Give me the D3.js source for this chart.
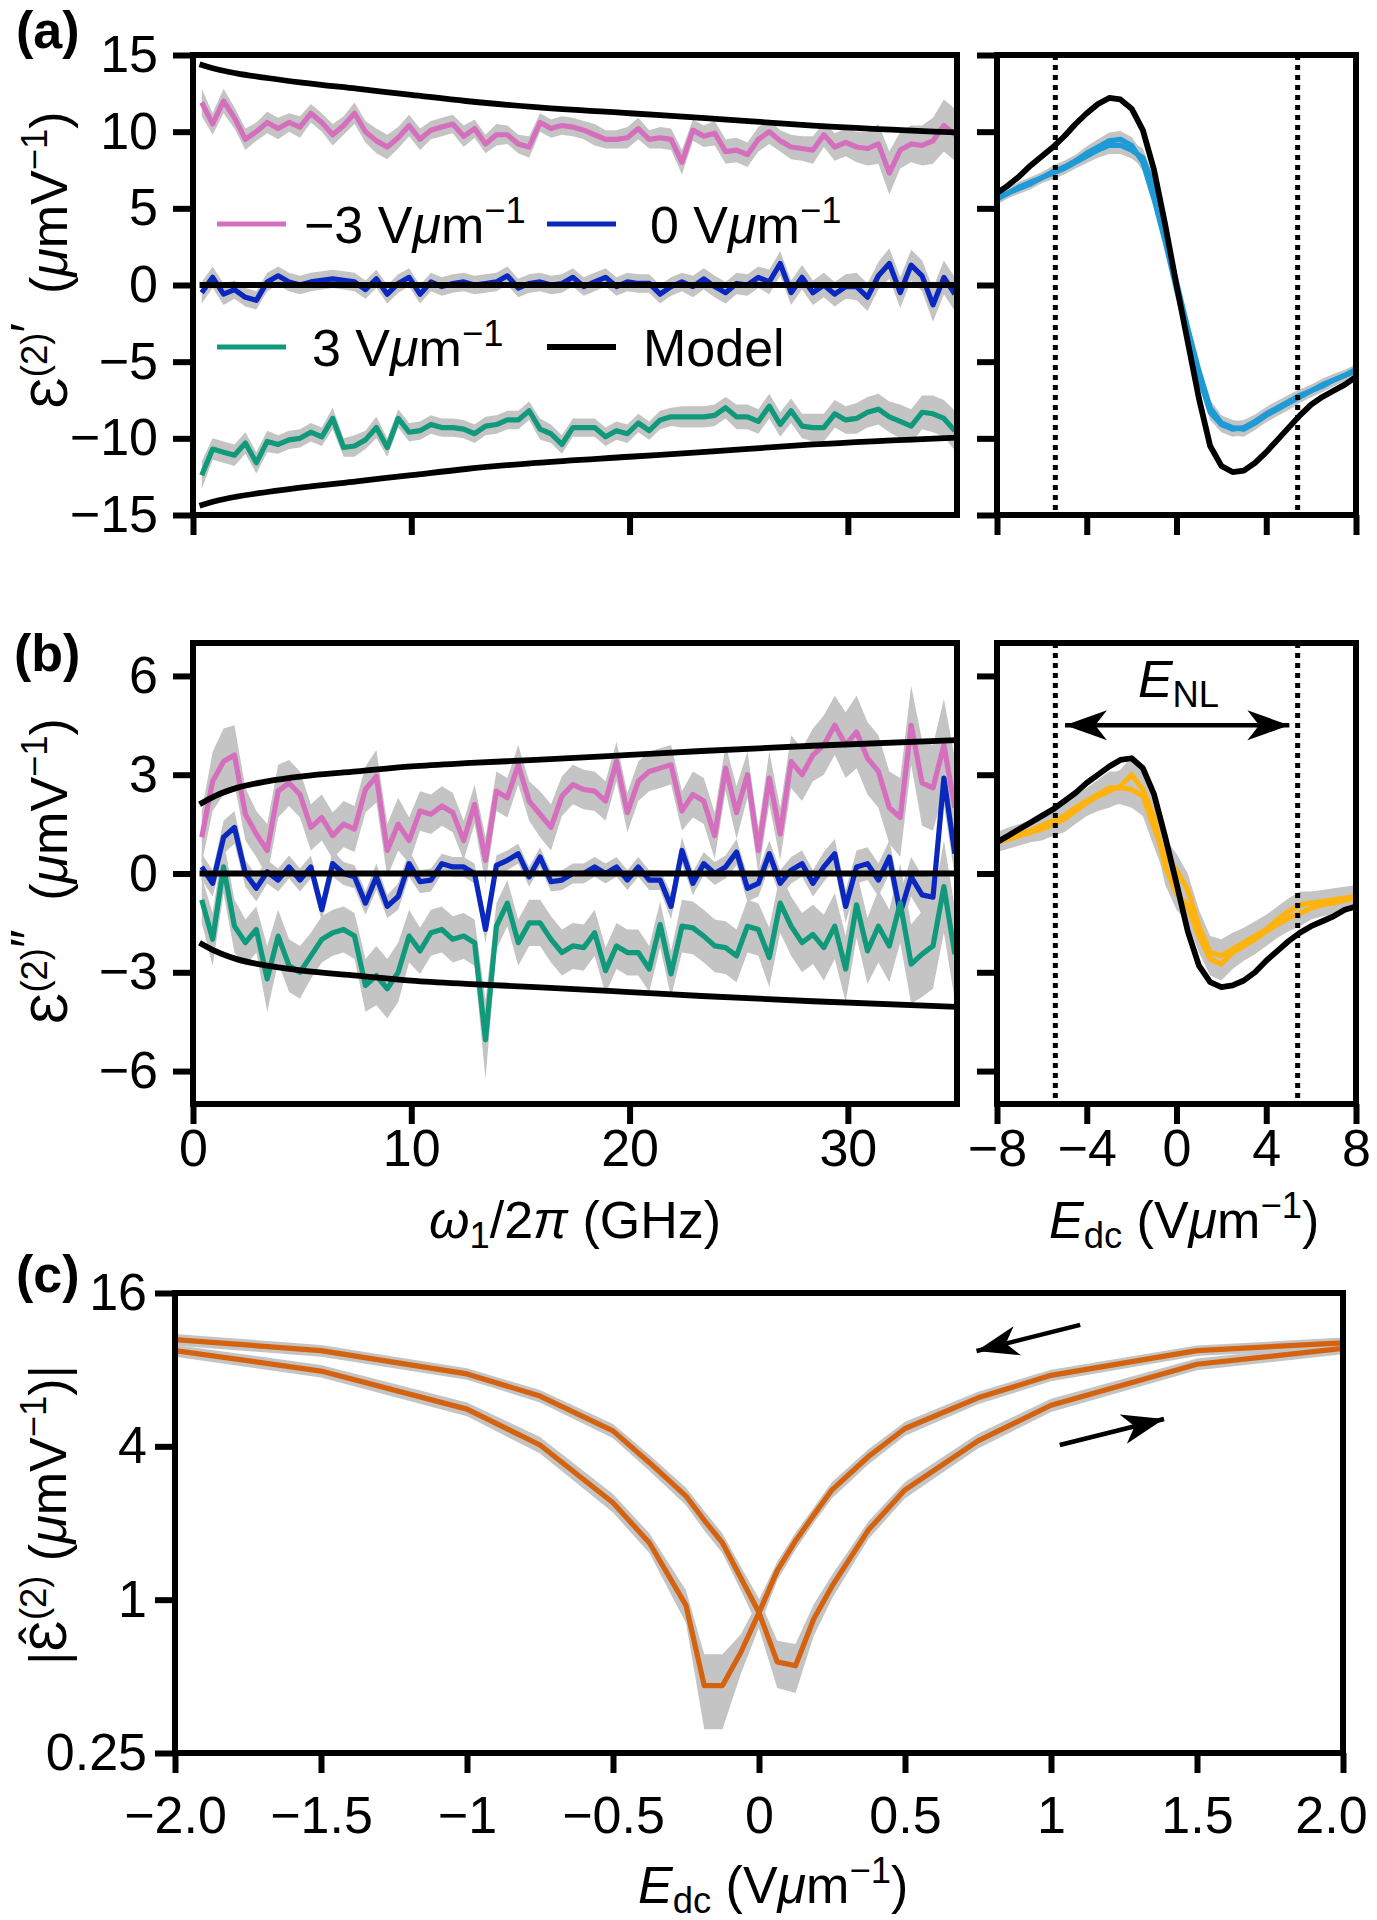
<!DOCTYPE html>
<html><head><meta charset="utf-8">
<script src="https://cdn.jsdelivr.net/npm/d3@7"></script>
<style>body{margin:0;background:#fff}</style>
</head><body>
<svg id="chart" width="1377" height="1920" xmlns="http://www.w3.org/2000/svg"></svg>
<script>
// ---------------- DATA ----------------
const freq = [0.4,0.9,1.4,1.9,2.4,2.9,3.4,3.9,4.4,4.9,5.4,5.9,6.4,6.9,7.4,7.9,8.4,8.9,9.4,9.9,
  10.4,10.9,11.4,11.9,12.4,12.9,13.4,13.9,14.4,14.9,15.4,15.9,16.4,16.9,17.4,17.9,18.4,18.9,19.4,19.9,
  20.4,20.9,21.4,21.9,22.4,22.9,23.4,23.9,24.4,24.9,25.4,25.9,26.4,26.9,27.4,27.9,28.4,28.9,29.4,29.9,
  30.4,30.9,31.4,31.9,32.4,32.9,33.4,33.9,34.4,34.9];

// panel (a), real part, three dc fields (-3, 0, 3 V/um)
const aPink = [11.9,10.5,12.0,10.9,9.5,10.0,10.6,10.2,10.6,10.3,
  11.2,10.6,9.8,10.4,11.2,10.0,9.4,9.0,9.6,10.4,
  9.5,10.1,10.3,10.5,9.7,10.2,9.2,9.8,9.8,9.2,
  9.0,10.6,10.2,10.4,10.3,10.1,9.8,9.5,9.5,9.6,
  10.2,9.5,9.6,9.5,8.0,10.1,9.7,9.9,8.7,8.8,
  8.5,9.5,10.0,9.4,9.0,8.9,8.8,9.8,9.0,9.3,
  9.0,8.9,9.2,7.3,8.8,9.2,9.1,9.4,10.4,9.8];
const aPinkErr = [0.9,0.7,0.8,0.7,0.7,0.6,0.7,0.7,0.6,0.7,
  0.6,0.6,0.7,0.6,0.7,0.7,0.8,0.8,0.7,0.7,
  0.7,0.6,0.6,0.6,0.7,0.6,0.6,0.7,0.6,0.6,
  0.7,0.6,0.6,0.6,0.6,0.6,0.7,0.6,0.6,0.7,
  0.7,0.6,0.7,0.7,0.8,0.7,0.7,0.8,0.8,0.8,
  0.8,0.8,0.8,0.7,0.8,0.8,0.9,0.8,0.9,0.9,
  1.0,1.1,1.3,1.4,1.2,1.2,1.3,1.5,1.7,1.7];
const aBlue = [-0.5,0.5,-0.6,-0.3,-0.8,-1.0,0.2,0.6,0.2,0.0,
  0.2,0.3,0.4,0.3,0.2,-0.3,0.4,-0.6,0.1,0.5,
  -0.6,0.2,-0.1,0.1,0.2,0.0,0.1,0.2,0.6,-0.2,
  0.1,0.2,0.0,0.1,0.5,-0.1,0.2,0.5,-0.1,0.2,
  0.1,0.1,-0.6,-0.1,0.2,-0.1,0.4,-0.1,-0.5,0.1,
  0.0,0.5,0.2,1.4,-0.5,0.5,-0.5,0.0,-0.6,-0.1,
  -0.1,-0.8,0.6,1.4,-0.5,1.3,0.6,-1.3,0.5,-0.6];
const aBlueErr = [0.7,0.7,0.7,0.6,0.6,0.6,0.6,0.6,0.6,0.6,
  0.6,0.6,0.6,0.6,0.6,0.6,0.6,0.6,0.6,0.6,
  0.6,0.6,0.6,0.6,0.6,0.6,0.6,0.6,0.6,0.6,
  0.6,0.6,0.6,0.6,0.6,0.6,0.6,0.6,0.6,0.6,
  0.6,0.6,0.6,0.6,0.6,0.7,0.7,0.7,0.7,0.7,
  0.7,0.7,0.8,0.8,0.8,0.8,0.8,0.8,0.8,0.8,
  0.9,0.9,0.9,1.0,1.0,1.0,1.0,1.1,1.1,1.1];
const aGreen = [-12.4,-10.7,-10.9,-11.1,-10.3,-11.6,-10.2,-10.4,-10.1,-10.0,
  -9.6,-9.9,-8.7,-10.6,-10.5,-10.1,-9.3,-10.6,-8.7,-9.6,
  -9.5,-9.1,-9.3,-9.3,-9.4,-9.7,-9.2,-9.1,-8.8,-8.8,
  -8.2,-9.4,-9.7,-10.4,-9.3,-9.3,-9.3,-9.9,-9.5,-9.7,
  -9.0,-9.5,-8.8,-8.6,-8.6,-8.6,-8.6,-8.5,-8.0,-8.6,
  -8.6,-8.9,-7.9,-9.1,-8.2,-9.2,-9.3,-9.3,-8.4,-8.8,
  -8.7,-8.3,-8.1,-8.6,-8.9,-9.2,-8.3,-8.4,-8.7,-9.5];
const aGreenErr = [0.9,0.7,0.7,0.7,0.7,0.7,0.7,0.6,0.6,0.6,
  0.6,0.6,0.7,0.6,0.7,0.6,0.7,0.6,0.6,0.6,
  0.6,0.6,0.6,0.6,0.6,0.6,0.6,0.6,0.6,0.6,
  0.6,0.7,0.6,0.6,0.6,0.6,0.6,0.6,0.6,0.6,
  0.6,0.6,0.6,0.6,0.7,0.7,0.7,0.7,0.7,0.8,
  0.8,0.8,0.8,0.8,0.8,0.8,0.9,0.9,0.9,0.9,
  1.0,1.0,1.0,1.0,1.1,1.1,1.1,1.2,1.2,1.3];

// panel (b), imaginary part
const bPink = [1.1,2.8,3.4,3.6,1.8,1.2,0.7,2.5,2.75,2.4,
  1.4,1.7,1.15,1.5,1.35,2.55,2.95,0.7,1.5,1.0,
  1.9,1.8,2.05,1.85,1.0,2.1,0.4,2.5,2.3,3.3,
  2.2,1.8,1.4,2.35,2.7,2.55,2.5,2.2,3.4,1.85,
  2.8,3.1,3.2,3.3,1.9,2.4,2.2,1.15,3.2,1.85,
  3.0,0.7,2.9,1.2,3.4,3.0,3.6,3.9,4.5,3.9,
  4.3,3.5,3.1,2.0,1.7,4.5,2.75,2.6,3.9,2.0];
const bPinkErr = [0.8,0.9,1.0,0.9,0.8,0.7,0.8,0.8,0.7,0.7,
  0.7,0.7,0.7,0.7,0.7,0.7,0.8,0.8,0.8,0.7,
  0.6,0.6,0.6,0.6,0.6,0.6,0.7,0.6,0.6,0.6,
  0.6,0.7,0.7,0.6,0.6,0.6,0.6,0.6,0.6,0.6,
  0.6,0.6,0.6,0.6,0.6,0.7,0.7,0.7,0.7,0.8,
  0.7,0.7,0.8,0.8,0.8,0.8,0.8,0.9,0.9,1.0,
  1.1,1.1,1.1,1.1,1.2,1.2,1.3,1.3,1.4,1.5];
const bBlue = [0.2,-0.3,1.1,1.4,0.0,-0.45,0.05,-0.2,0.2,-0.2,
  0.2,-1.1,0.3,0.0,-0.1,-0.9,-0.1,-1.0,-0.7,0.3,
  -0.25,-0.2,0.3,0.2,0.2,0.0,-1.7,0.25,0.4,0.6,
  -0.1,0.5,-0.25,-0.2,0.0,0.0,0.2,0.0,0.2,-0.2,
  0.2,-0.2,-0.2,-1.0,0.7,-0.3,0.3,0.0,0.2,0.65,
  -0.45,-0.3,0.6,-0.3,0.1,0.3,-0.3,0.2,0.6,-1.0,
  0.2,0.3,-0.2,0.5,-1.2,-0.1,-0.65,-0.72,2.9,0.6];
const bBlueErr = [0.4,0.4,0.5,0.5,0.4,0.4,0.35,0.35,0.35,0.35,
  0.35,0.35,0.4,0.35,0.35,0.35,0.4,0.35,0.4,0.4,
  0.35,0.35,0.3,0.3,0.3,0.3,0.4,0.3,0.3,0.3,
  0.3,0.3,0.3,0.3,0.3,0.3,0.3,0.3,0.3,0.3,
  0.3,0.3,0.3,0.4,0.4,0.35,0.35,0.35,0.35,0.4,
  0.4,0.4,0.4,0.4,0.4,0.4,0.4,0.45,0.45,0.5,
  0.5,0.5,0.5,0.5,0.6,0.6,0.6,0.6,0.8,0.7];
const bGreen = [-0.8,-2.0,0.2,-1.6,-2.1,-1.7,-3.2,-1.9,-2.8,-3.0,
  -2.5,-2.0,-1.8,-1.7,-1.9,-3.4,-3.1,-3.5,-3.0,-1.9,
  -2.35,-1.8,-1.7,-2.0,-1.9,-2.1,-5.05,-1.6,-0.9,-2.1,
  -1.5,-1.5,-2.0,-2.4,-2.2,-2.25,-1.8,-2.95,-2.2,-2.4,
  -2.4,-2.9,-1.55,-3.05,-1.6,-1.65,-1.9,-2.2,-2.25,-2.5,
  -1.6,-1.7,-2.55,-0.9,-1.6,-2.1,-1.85,-2.25,-1.6,-2.9,
  -0.95,-2.35,-1.6,-2.2,-0.9,-2.75,-2.45,-2.2,-0.4,-2.45];
const bGreenErr = [0.7,0.8,0.8,0.8,0.7,0.7,1.0,0.8,0.8,0.8,
  0.7,0.7,0.7,0.7,0.7,0.8,0.9,0.9,0.9,0.8,
  0.7,0.7,0.7,0.7,0.7,0.7,1.2,0.7,0.7,0.7,
  0.7,0.7,0.7,0.7,0.7,0.7,0.7,0.7,0.7,0.7,
  0.7,0.7,0.7,0.7,0.8,0.8,0.8,0.8,0.8,0.8,
  0.8,0.8,0.9,0.9,0.9,0.9,0.9,1.0,1.0,1.0,
  1.0,1.0,1.1,1.1,1.2,1.2,1.3,1.3,1.4,1.4];

// model curves vs frequency
const modelFreq = [0.3,1,2,3.4,5,7.5,10,12.5,15.7,20,23.3,28.4,35];
const modelAneg = [14.4,14.1,13.8,13.5,13.2,12.8,12.4,12.0,11.6,11.2,10.9,10.4,9.95];
const modelApos = [-14.4,-14.1,-13.8,-13.5,-13.2,-12.8,-12.4,-12.0,-11.6,-11.2,-10.9,-10.4,-9.95];
const modelBneg = [2.1,2.35,2.6,2.8,2.95,3.1,3.25,3.35,3.45,3.6,3.72,3.88,4.05];
const modelBpos = [-2.1,-2.35,-2.6,-2.8,-2.95,-3.1,-3.25,-3.35,-3.45,-3.6,-3.72,-3.88,-4.05];
const modelZeroFreq = [0.3,35];
const modelZero = [0,0];

// right panels vs dc field
const Edc = [-8,-7.5,-7,-6.5,-6,-5.5,-5,-4.5,-4,-3.5,-3,-2.5,-2,-1.5,-1,-0.5,0,
  0.5,1,1.5,2,2.5,3,3.5,4,4.5,5,5.5,6,6.5,7,7.5,8];
const raSweep1 = [5.7,6.0,6.4,6.7,7.0,7.4,7.7,8.1,8.6,9.0,9.4,9.5,9.1,8.0,5.6,2.8,-0.3,
  -3.2,-6.0,-8.3,-9.1,-9.4,-9.3,-8.9,-8.4,-8.0,-7.6,-7.2,-6.9,-6.6,-6.2,-5.9,-5.6];
const raSweep2 = [5.6,6.0,6.3,6.6,7.0,7.3,7.6,8.0,8.4,8.8,9.1,9.1,8.8,8.3,6.4,3.2,0.2,
  -2.8,-5.6,-8.0,-9.0,-9.3,-9.4,-9.0,-8.5,-8.1,-7.7,-7.3,-6.9,-6.5,-6.2,-5.9,-5.5];
const raErr = [0.35,0.35,0.35,0.35,0.35,0.4,0.4,0.4,0.45,0.5,0.55,0.55,0.55,0.6,0.6,0.6,0.5,
  0.5,0.5,0.5,0.5,0.5,0.5,0.45,0.45,0.45,0.45,0.4,0.4,0.4,0.4,0.35,0.35];
const raModel = [6.0,6.5,7.1,7.8,8.4,9.0,9.7,10.5,11.2,11.8,12.2,12.1,11.5,10.1,7.5,3.9,0.0,
  -3.7,-7.4,-10.5,-11.8,-12.2,-12.1,-11.6,-10.9,-10.1,-9.3,-8.5,-7.8,-7.3,-6.9,-6.5,-6.0];
const rbSweep1 = [0.95,1.05,1.15,1.25,1.35,1.5,1.65,1.9,2.15,2.35,2.5,2.65,3.0,2.55,1.7,0.2,-0.6,
  -1.0,-1.9,-2.6,-2.75,-2.4,-2.2,-2.0,-1.75,-1.55,-1.35,-1.2,-1.05,-0.95,-0.9,-0.8,-0.75];
const rbSweep2 = [0.95,1.1,1.2,1.3,1.45,1.6,1.75,2.0,2.2,2.4,2.6,2.6,2.55,2.35,1.4,0.5,0.1,
  -0.5,-1.6,-2.4,-2.5,-2.3,-2.1,-1.9,-1.7,-1.4,-1.15,-0.95,-0.9,-0.85,-0.8,-0.75,-0.7];
const rbErr = [0.3,0.3,0.3,0.3,0.35,0.35,0.4,0.4,0.4,0.45,0.5,0.5,0.55,0.6,0.6,0.55,0.5,
  0.5,0.5,0.5,0.5,0.5,0.45,0.45,0.45,0.4,0.4,0.4,0.35,0.35,0.35,0.35,0.35];
const rbModel = [0.95,1.15,1.35,1.55,1.75,1.95,2.2,2.45,2.75,3.0,3.25,3.45,3.5,3.2,2.4,1.1,-0.3,
  -1.75,-2.8,-3.3,-3.45,-3.4,-3.25,-3.0,-2.65,-2.35,-2.05,-1.8,-1.6,-1.45,-1.3,-1.1,-1.0];
const ENL = [-5.4,5.4];

// panel (c), |eps| vs dc field, two sweep directions
const cE = [-2,-1.5,-1,-0.75,-0.5,-0.375,-0.25,-0.1875,-0.125,-0.0625,0,
  0.0625,0.125,0.1875,0.25,0.375,0.5,0.75,1,1.5,2];
const cUp = [10.5,9.5,7.7,6.3,4.6,3.45,2.55,2.05,1.67,1.22,0.89,
  0.57,0.55,0.84,1.13,1.88,2.7,4.2,5.8,8.4,9.7];
const cUpErr = [0.55,0.5,0.4,0.35,0.3,0.25,0.2,0.18,0.15,0.13,0.12,
  0.12,0.12,0.12,0.12,0.15,0.2,0.28,0.35,0.45,0.5];
const cDown = [9.5,7.9,5.6,4.05,2.4,1.67,0.95,0.46,0.46,0.62,0.89,
  1.3,1.7,2.15,2.7,3.65,4.7,6.2,7.6,9.5,10.2];
const cDownErr = [0.5,0.45,0.35,0.3,0.2,0.15,0.14,0.15,0.15,0.11,0.11,
  0.11,0.13,0.15,0.2,0.25,0.3,0.35,0.4,0.45,0.5];

// ticks
const aTicksY = [15,10,5,0,-5,-10,-15];
const aTickLabelsY = ["15","10","5","0","\u22125","\u221210","\u221215"];
const bTicksY = [6,3,0,-3,-6];
const bTickLabelsY = ["6","3","0","\u22123","\u22126"];
const fTicks = [0,10,20,30];
const fTickLabels = ["0","10","20","30"];
const eTicks = [-8,-4,0,4,8];
const eTickLabels = ["\u22128","\u22124","0","4","8"];
const cTicksX = [-2,-1.5,-1,-0.5,0,0.5,1,1.5,2];
const cTickLabelsX = ["\u22122.0","\u22121.5","\u22121","\u22120.5","0","0.5","1","1.5","2.0"];
const cTicksY = [16,4,1,0.25];
const cTickLabelsY = ["16","4","1","0.25"];

// ---------------- DRAWING ----------------
const FONT = '"Liberation Sans", Arial, Helvetica, sans-serif';
const FS = 52;
const GREY = '#c4c4c4';
const C_PINK = '#d56ebd', C_BLUE = '#0a28bd', C_GREEN = '#11997c',
      C_SKY = '#1e9bd7', C_GOLD = '#ffb30f', C_ORANGE = '#d4620e';
const LW = 5.2, MW = 5.8, FW = 6;

const svg = d3.select('#chart');
svg.append('rect').attr('width',1377).attr('height',1920).attr('fill','#fff');
const defs = svg.append('defs');

const xF = d3.scaleLinear().domain([0,35]).range([193,957]);
const yA = d3.scaleLinear().domain([-15,15]).range([515,55]);
const yB = d3.scaleLinear().domain([-7,7]).range([1104,643]);
const xE = d3.scaleLinear().domain([-8,8]).range([997,1356]);
const xC = d3.scaleLinear().domain([-2,2]).range([175,1343]);
const yC = d3.scaleLog().base(2).domain([0.25,16]).range([1753,1293]);

function panel(id, x, y) {
  const [x0,x1] = x.range(); const [y1,y0] = y.range();
  defs.append('clipPath').attr('id',id).append('rect')
    .attr('x',x0).attr('y',y0).attr('width',x1-x0).attr('height',y1-y0);
  return svg.append('g').attr('clip-path',`url(#${id})`);
}
function band(g, xs, vs, es, x, y, minV) {
  const d = xs.map((t,i)=>[t, vs[i]-es[i], vs[i]+es[i]]);
  g.append('path').attr('fill',GREY).attr('stroke','none')
    .attr('d', d3.area().x(p=>x(p[0])).y0(p=>y(minV!==undefined?Math.max(minV,p[1]):p[1])).y1(p=>y(p[2]))(d));
}
function line(g, xs, vs, x, y, color, w, curve) {
  const gen = d3.line().x(p=>x(p[0])).y(p=>y(p[1]));
  if (curve) gen.curve(curve);
  g.append('path').attr('fill','none').attr('stroke',color).attr('stroke-width',w)
    .attr('stroke-linejoin','round').attr('stroke-linecap','butt')
    .attr('d', gen(xs.map((t,i)=>[t, vs[i]])));
}
function frame(x, y) {
  const [x0,x1] = x.range(); const [y1,y0] = y.range();
  svg.append('rect').attr('x',x0).attr('y',y0).attr('width',x1-x0).attr('height',y1-y0)
    .attr('fill','none').attr('stroke','#000').attr('stroke-width',FW);
}
function axis(kind, scale, values, labels, pad, tx, ty) {
  const ax = (kind==='left' ? d3.axisLeft(scale) : d3.axisBottom(scale))
    .tickValues(values).tickSize(20).tickPadding(pad)
    .tickFormat((d,i)=> labels ? labels[i] : '');
  const a = svg.append('g').attr('transform',`translate(${tx},${ty})`).call(ax);
  a.attr('font-size',FS).attr('font-family',FONT);
  a.select('.domain').remove();
  a.selectAll('.tick line').attr('stroke','#000').attr('stroke-width',FW);
  a.selectAll('.tick text').attr('fill','#000');
  return a;
}
function rich(x, y, parts, opts={}) {
  const t = svg.append('text').attr('x',x).attr('y',y).attr('font-size',FS)
    .attr('font-family',FONT).attr('fill','#000').style('white-space','pre');
  if (opts.anchor) t.attr('text-anchor',opts.anchor);
  if (opts.rotate) t.attr('transform',`rotate(-90 ${x} ${y})`);
  if (opts.bold) t.attr('font-weight','bold');
  let cur = 0;
  parts.forEach(p => {
    const s = typeof p === 'string' ? {t:p} : p;
    const fs = s.fs || ((s.sup||s.sub) ? FS*0.7 : FS);
    const off = s.sup ? -FS*0.38 : s.sub ? FS*0.2 : 0;
    const ts = t.append('tspan').text(s.t).attr('font-size',fs).attr('dy',off-cur);
    cur = off;
    if (s.it) ts.attr('font-style','italic');
  });
  return t;
}
function arrowHead(x1,y1,x2,y2,len,hw) {
  const a = Math.atan2(y2-y1,x2-x1), c = Math.cos(a), s = Math.sin(a);
  const bx = x2 - c*len, by = y2 - s*len;
  const nx = x2 - c*len*0.72, ny = y2 - s*len*0.72;
  svg.append('path').attr('fill','#000')
    .attr('d',`M${x2},${y2}L${bx - s*hw},${by + c*hw}L${nx},${ny}L${bx + s*hw},${by - c*hw}Z`);
}
function arrow(x1,y1,x2,y2,both) {
  svg.append('line').attr('x1',x1).attr('y1',y1).attr('x2',x2).attr('y2',y2)
    .attr('stroke','#000').attr('stroke-width',4.5);
  arrowHead(x1,y1,x2,y2,42,15);
  if (both) arrowHead(x2,y2,x1,y1,42,15);
}
function dotted(g, e, x, y) {
  g.append('line').attr('x1',x(e)).attr('x2',x(e)).attr('y1',y.range()[1]).attr('y2',y.range()[0])
    .attr('stroke','#000').attr('stroke-width',5).attr('stroke-dasharray','5,5');
}

// ---- panel (a) left
let g = panel('clipAL', xF, yA);
band(g, freq, aPink, aPinkErr, xF, yA);
band(g, freq, aBlue, aBlueErr, xF, yA);
band(g, freq, aGreen, aGreenErr, xF, yA);
line(g, freq, aPink, xF, yA, C_PINK, LW);
line(g, freq, aBlue, xF, yA, C_BLUE, LW);
line(g, freq, aGreen, xF, yA, C_GREEN, LW);
line(g, modelFreq, modelAneg, xF, yA, '#000', MW, d3.curveMonotoneX);
line(g, modelFreq, modelApos, xF, yA, '#000', MW, d3.curveMonotoneX);
line(g, modelZeroFreq, modelZero, xF, yA, '#000', MW);
frame(xF, yA);
axis('left', yA, aTicksY, aTickLabelsY, 15, xF.range()[0], 0);
axis('bottom', xF, fTicks, null, 5, 0, yA.range()[0]);

// legend
const legRows = [
  [{c:C_PINK, x:217, y:224, tx:304, parts:['\u22123 V',{t:'\u03bc',it:true},'m',{t:'\u22121',sup:true}]},
   {c:C_BLUE, x:547, y:224, tx:650, parts:['0 V',{t:'\u03bc',it:true},'m',{t:'\u22121',sup:true}]}],
  [{c:C_GREEN, x:217, y:347, tx:312, parts:['3 V',{t:'\u03bc',it:true},'m',{t:'\u22121',sup:true}]},
   {c:'#000', x:547, y:347, tx:643, parts:['Model']}]
];
legRows.flat().forEach(L => {
  svg.append('line').attr('x1',L.x).attr('x2',L.x+69).attr('y1',L.y).attr('y2',L.y)
    .attr('stroke',L.c).attr('stroke-width',L.c==='#000'?MW:LW);
  rich(L.tx, L.y+19, L.parts);
});

// ---- panel (a) right
g = panel('clipAR', xE, yA);
band(g, Edc, raSweep1, raErr, xE, yA);
band(g, Edc, raSweep2, raErr, xE, yA);
line(g, Edc, raSweep1, xE, yA, C_SKY, LW);
line(g, Edc, raSweep2, xE, yA, C_SKY, LW);
line(g, Edc, raModel, xE, yA, '#000', MW);
ENL.forEach(e => dotted(g, e, xE, yA));
frame(xE, yA);
axis('left', yA, aTicksY, null, 15, xE.range()[0], 0);
axis('bottom', xE, eTicks, null, 5, 0, yA.range()[0]);

// ---- panel (b) left
g = panel('clipBL', xF, yB);
band(g, freq, bPink, bPinkErr, xF, yB);
band(g, freq, bBlue, bBlueErr, xF, yB);
band(g, freq, bGreen, bGreenErr, xF, yB);
line(g, freq, bPink, xF, yB, C_PINK, LW);
line(g, freq, bBlue, xF, yB, C_BLUE, LW);
line(g, freq, bGreen, xF, yB, C_GREEN, LW);
line(g, modelFreq, modelBneg, xF, yB, '#000', MW, d3.curveMonotoneX);
line(g, modelFreq, modelBpos, xF, yB, '#000', MW, d3.curveMonotoneX);
line(g, modelZeroFreq, modelZero, xF, yB, '#000', MW);
frame(xF, yB);
axis('left', yB, bTicksY, bTickLabelsY, 15, xF.range()[0], 0);
axis('bottom', xF, fTicks, fTickLabels, 5, 0, yB.range()[0]);

// ---- panel (b) right
g = panel('clipBR', xE, yB);
band(g, Edc, rbSweep1, rbErr, xE, yB);
band(g, Edc, rbSweep2, rbErr, xE, yB);
line(g, Edc, rbSweep1, xE, yB, C_GOLD, LW);
line(g, Edc, rbSweep2, xE, yB, C_GOLD, LW);
line(g, Edc, rbModel, xE, yB, '#000', MW);
ENL.forEach(e => dotted(g, e, xE, yB));
frame(xE, yB);
axis('left', yB, bTicksY, null, 15, xE.range()[0], 0);
axis('bottom', xE, eTicks, eTickLabels, 5, 0, yB.range()[0]);
arrow(xE(-4.97), yB(4.5), xE(5.03), yB(4.5), true);
rich(xE(-1.72), yB(5.36), [{t:'E',it:true},{t:'NL',sub:true}]);

// ---- panel (c)
g = panel('clipC', xC, yC);
band(g, cE, cUp, cUpErr, xC, yC, 0.26);
band(g, cE, cDown, cDownErr, xC, yC, 0.26);
line(g, cE, cUp, xC, yC, C_ORANGE, LW);
line(g, cE, cDown, xC, yC, C_ORANGE, LW);
frame(xC, yC);
axis('left', yC, cTicksY, cTickLabelsY, 8, xC.range()[0], 0);
const axC = axis('bottom', xC, cTicksX, cTickLabelsX, 23, 0, yC.range()[0]);
// the last label sits slightly left of its tick in the reference (kept inside the figure)
axC.selectAll('.tick text').filter((d,i)=> i===cTicksX.length-1).attr('dx',-12);
arrow(xC(1.1), yC(12.0), xC(0.745), yC(9.47));
arrow(xC(1.03), yC(4.05), xC(1.387), yC(5.12));

// ---- axis titles
const unitParts = [' (',{t:'\u03bc',it:true},'mV',{t:'\u22121',sup:true},')'];
rich(67, 260, [{t:'\u0190'},{t:'(2)',sup:true},{t:'\u2032',sup:true,fs:FS},' '].concat(unitParts), {anchor:'middle', rotate:true});
rich(67, 871, [{t:'\u0190'},{t:'(2)',sup:true},{t:'\u2033',sup:true,fs:FS},' '].concat(unitParts), {anchor:'middle', rotate:true});
rich(66, 1515, ['|',{t:'\u0190\u0302'},{t:'(2)',sup:true}].concat(unitParts).concat(['|']), {anchor:'middle', rotate:true});
rich(575, 1238, [{t:'\u03c9',it:true},{t:'1',sub:true},'/2',{t:'\u03c0',it:true},' (GHz)'], {anchor:'middle'});
const edcParts = [{t:'E',it:true},{t:'dc',sub:true},' (V',{t:'\u03bc',it:true},'m',{t:'\u22121',sup:true},')'];
rich(1049, 1238, edcParts);
rich(638, 1903, edcParts);

// panel letters
rich(16, 48, ['(a)'], {bold:true});
rich(14, 671, ['(b)'], {bold:true});
rich(16, 1292, ['(c)'], {bold:true});
</script>
</body></html>
